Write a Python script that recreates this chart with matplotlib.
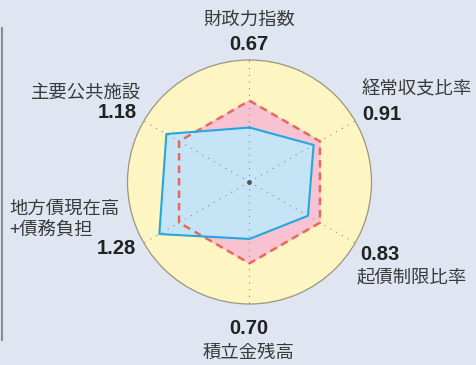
import numpy as np
import matplotlib
matplotlib.use("Agg")
import matplotlib.pyplot as plt
from matplotlib.lines import Line2D

# data
categories = ["財政力指数", "経常収支比率", "起債制限比率", "積立金残高",
              "地方債現在高\n+債務負担", "主要公共施設"]
values = [0.67, 0.91, 0.83, 0.70, 1.28, 1.18]
average = [1.0, 1.0, 1.0, 1.0, 1.0, 1.0]
value_labels = ["0.67", "0.91", "0.83", "0.70", "1.28", "1.18"]

W, H = 476, 365
bg = "#dfe6f1"
txt_col = "#3a3a3a"
cjk = ["Noto Sans CJK JP", "DejaVu Sans"]
num_font = ["Liberation Sans", "DejaVu Sans"]

fig = plt.figure(figsize=(W / 100, H / 100), dpi=100)
fig.patch.set_facecolor(bg)

# polar axes: centre (249, 182) px, radius 122 px
cx, cy, rad = 249.5, 182, 122
ax = fig.add_axes([(cx - rad) / W, 1 - (cy + rad) / H, 2 * rad / W, 2 * rad / H],
                  projection="polar")
ax.set_theta_offset(np.pi / 2)
ax.set_theta_direction(-1)
ax.set_ylim(0, 1.5)
ax.set_facecolor("#fdf5c2")
ax.spines["polar"].set_color("#9c9580")
ax.spines["polar"].set_linewidth(0.9)
ax.set_xticks([])
ax.set_yticks([])
ax.grid(False)

n = len(categories)
ang = np.arange(n) * 2 * np.pi / n
ang_c = np.append(ang, ang[0])

# dotted spokes
for a in ang:
    ax.plot([a, a], [0, 1.5], color="#8a8a8a", lw=0.8, ls=(0, (1, 5)), zorder=4)

# average hexagon
avg_c = np.append(average, average[0])
ax.fill(ang_c, avg_c, color="#f7c3d3", zorder=2)
ax.plot(ang_c, avg_c, color="#e8695a", lw=1.8, ls=(0, (3, 2)), zorder=5)

# town values
val_c = np.append(values, values[0])
ax.fill(ang_c, val_c, color="#c5e5f6", zorder=3)
ax.plot(ang_c, val_c, color="#26a6e0", lw=1.5, zorder=6)

ax.plot([0], [0], marker="o", ms=2.5, color="#555555", zorder=7)


def ft(x, y, s, **kw):
    fig.text(x / W, 1 - y / H, s, **kw)


kc = dict(fontsize=13.2, color=txt_col, family=cjk, va="center")
kn = dict(fontsize=14.5, color="#222222", family=num_font, weight="bold", va="center")

# top
ft(249, 20, categories[0], ha="center", **kc)
ft(249, 44, value_labels[0], ha="center", **kn)
# upper right
ft(362, 89, categories[1], ha="left", **kc)
ft(362, 114, value_labels[1], ha="left", **kn)
# lower right
ft(360, 254, value_labels[2], ha="left", **kn)
ft(357, 278, categories[2], ha="left", **kc)
# bottom
ft(249, 328, value_labels[3], ha="center", **kn)
ft(249, 353, categories[3], ha="center", **kc)
# lower left
ft(9, 220, categories[4], ha="left", linespacing=1.25, **kc)
ft(136, 249, value_labels[4], ha="right", **kn)
# upper left
ft(141, 93, categories[5], ha="right", **kc)
ft(137, 113, value_labels[5], ha="right", **kn)

# left border line
fig.add_artist(Line2D([2 / W, 2 / W], [1 - 28 / H, 1 - 340 / H],
                      color="#8c8c8c", lw=1.5))

fig.savefig("out.png", dpi=100, facecolor=bg)
